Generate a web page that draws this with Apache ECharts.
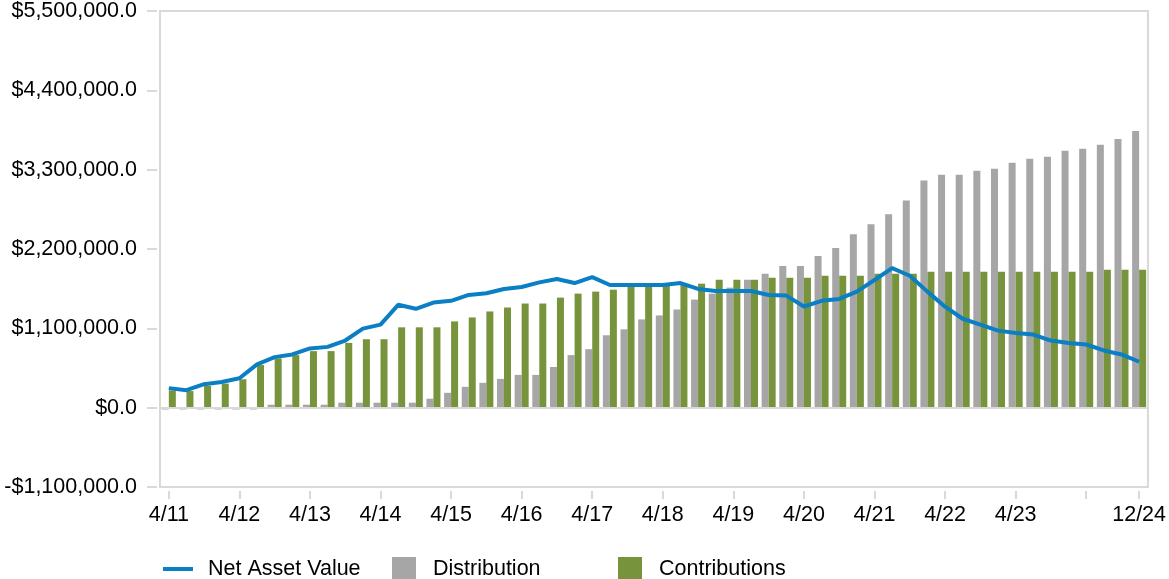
<!DOCTYPE html>
<html>
<head>
<meta charset="utf-8">
<script src="https://cdn.jsdelivr.net/npm/echarts@6/dist/echarts.min.js"></script>
<style>
  html, body { margin: 0; padding: 0; background: #ffffff; }
  #chart { width: 1169px; height: 579px; }
</style>
</head>
<body>
<div id="chart"></div>
<script>
// Quarter-end periods, April 2011 through December 2024
const periods = [
  "4/11","7/11","10/11","1/12","4/12","7/12","10/12","1/13",
  "4/13","7/13","10/13","1/14","4/14","7/14","10/14","1/15",
  "4/15","7/15","10/15","1/16","4/16","7/16","10/16","1/17",
  "4/17","7/17","10/17","1/18","4/18","7/18","10/18","1/19",
  "4/19","7/19","10/19","1/20","4/20","7/20","10/20","1/21",
  "4/21","7/21","10/21","1/22","4/22","7/22","10/22","1/23",
  "4/23","7/23","10/23","1/24","4/24","7/24","10/24","12/24"
];

// Periods that carry an axis label, and periods with a tick mark only
const labeledPeriods = ["4/11","4/12","4/13","4/14","4/15","4/16","4/17","4/18","4/19","4/20","4/21","4/22","4/23","12/24"];
const tickOnlyPeriods = ["4/24"];

// Value axis ticks
const yMin = -1100000;
const yMax = 5500000;
const yStep = 1100000;

const netAssetValue = [
  271000, 243000, 326000, 357000, 408000, 601000, 701000, 738000,
  821000, 843000, 931000, 1096000, 1151000, 1426000, 1371000, 1458000,
  1481000, 1563000, 1586000, 1646000, 1673000, 1737000, 1783000, 1728000,
  1811000, 1701000, 1701000, 1701000, 1701000, 1728000, 1646000, 1618000,
  1618000, 1618000, 1563000, 1554000, 1403000, 1481000, 1508000, 1609000,
  1770000, 1935000, 1829000, 1609000, 1400000, 1233000, 1151000, 1068000,
  1036000, 1013000, 931000, 898000, 876000, 793000, 738000, 637000
];

const distribution = [
  -25000, -25000, -25000, -25000, -25000, -25000, 41000, 41000,
  41000, 41000, 69000, 69000, 69000, 69000, 69000, 124000,
  206000, 289000, 344000, 399000, 454000, 454000, 564000, 729000,
  811000, 1004000, 1086000, 1224000, 1279000, 1361000, 1499000, 1581000,
  1664000, 1774000, 1856000, 1966000, 1966000, 2104000, 2214000, 2406000,
  2544000, 2681000, 2874000, 3149000, 3231000, 3231000, 3286000, 3314000,
  3396000, 3451000, 3479000, 3561000, 3589000, 3644000, 3726000, 3836000
];

const contributions = [
  240000, 230000, 302000, 334000, 394000, 591000, 683000, 729000,
  784000, 784000, 898000, 949000, 949000, 1114000, 1114000, 1114000,
  1196000, 1251000, 1334000, 1389000, 1444000, 1444000, 1526000, 1581000,
  1609000, 1636000, 1677000, 1682000, 1710000, 1710000, 1719000, 1774000,
  1774000, 1774000, 1801000, 1801000, 1801000, 1829000, 1829000, 1829000,
  1856000, 1856000, 1856000, 1884000, 1884000, 1884000, 1884000, 1884000,
  1884000, 1884000, 1884000, 1884000, 1884000, 1911000, 1911000, 1911000
];

const FONT = '"Liberation Sans", Arial, sans-serif';
const TEXT_COLOR = '#000000';
const FRAME_COLOR = '#d9d9d9';
const BLUE = '#0a7fc4';
const GRAY = '#a6a6a6';
const GREEN = '#77933c';
const FONT_SIZE = 21.5;

function money(v) {
  const sign = v < 0 ? '-' : '';
  const abs = Math.abs(v);
  return sign + '$' + abs.toLocaleString('en-US', { minimumFractionDigits: 1, maximumFractionDigits: 1 });
}

const chart = echarts.init(document.getElementById('chart'), null, { renderer: 'canvas' });

// One legend box per entry so each swatch sits at its own column
function legendEntry(name, left, top, iconWidth, iconHeight, gap) {
  return {
    data: [name], left: left, top: top, padding: 0, selectedMode: false,
    icon: 'rect', itemWidth: iconWidth, itemHeight: iconHeight,
    textStyle: { color: TEXT_COLOR, fontFamily: FONT, fontSize: FONT_SIZE, padding: [0, 0, 0, gap] }
  };
}

chart.setOption({
  animation: false,
  backgroundColor: '#ffffff',
  grid: {
    left: 160, right: 18, top: 9, bottom: 92,
    show: true, borderColor: FRAME_COLOR, borderWidth: 2, backgroundColor: 'transparent'
  },
  legend: [
    legendEntry('Net Asset Value', 163, 558, 30, 4, 10),
    legendEntry('Distribution', 392, 557, 24, 24, 12),
    legendEntry('Contributions', 618, 557, 24, 24, 12)
  ],
  xAxis: {
    type: 'category',
    data: periods,
    boundaryGap: true,
    position: 'bottom',
    offset: 4,
    axisLine: { show: false, onZero: false },
    axisTick: {
      show: true, alignWithLabel: true, length: 8,
      lineStyle: { color: FRAME_COLOR, width: 2 },
      interval: function (i, v) { return labeledPeriods.indexOf(v) >= 0 || tickOnlyPeriods.indexOf(v) >= 0; }
    },
    axisLabel: {
      margin: 13, color: TEXT_COLOR, fontFamily: FONT, fontSize: FONT_SIZE,
      interval: function (i, v) { return labeledPeriods.indexOf(v) >= 0; }
    },
    splitLine: { show: false }
  },
  yAxis: {
    type: 'value',
    min: yMin, max: yMax, interval: yStep,
    offset: 3,
    axisLine: { show: false },
    axisTick: { show: true, length: 10, lineStyle: { color: FRAME_COLOR, width: 2 } },
    axisLabel: { margin: 20, color: TEXT_COLOR, fontFamily: FONT, fontSize: FONT_SIZE, formatter: money },
    splitLine: { show: false }
  },
  series: [
    {
      name: 'Distribution',
      type: 'bar',
      data: distribution,
      barWidth: 7,
      barGap: '0%',
      itemStyle: { color: GRAY },
      markLine: {
        silent: true, symbol: 'none', animation: false,
        label: { show: false },
        lineStyle: { color: FRAME_COLOR, width: 2, type: 'solid' },
        data: [{ yAxis: 0 }]
      }
    },
    {
      name: 'Contributions',
      type: 'bar',
      data: contributions,
      barWidth: 7,
      barGap: '0%',
      itemStyle: { color: GREEN }
    },
    {
      name: 'Net Asset Value',
      type: 'line',
      data: netAssetValue,
      symbol: 'none',
      z: 5,
      lineStyle: { color: BLUE, width: 4 },
      itemStyle: { color: BLUE }
    }
  ]
});
</script>
</body>
</html>
